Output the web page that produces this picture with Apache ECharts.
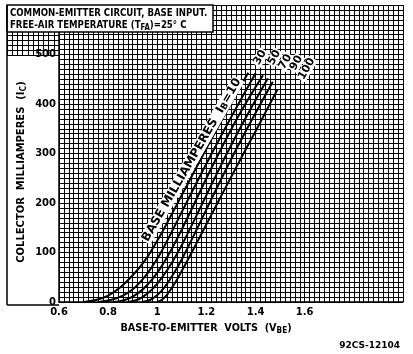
<!DOCTYPE html>
<html>
<head>
<meta charset="utf-8">
<script src="https://cdn.jsdelivr.net/npm/echarts@6/dist/echarts.min.js"></script>
<style>
html,body{margin:0;padding:0;background:#fff;}
#c{width:413px;height:354px;}
</style>
</head>
<body>
<div id="c"></div>
<script>
// ---- data ----
var xTickLabels = ['0.6', '0.8', '1', '1.2', '1.4', '1.6'];
var yTickLabels = ['0', '100', '200', '300', '400', '500'];
var curveNames = ['10', '30', '50', '70', '90', '100'];
var ib10 = [[0.70,0],[0.75,4],[0.80,13],[0.85,30],[0.90,54],[0.95,84],[1.00,124],[1.05,169],[1.10,216],[1.15,263],[1.20,310],[1.25,356],[1.30,401],[1.37,463]];
var ib30 = [[0.76,0],[0.81,4],[0.86,13],[0.91,30],[0.96,58],[1.01,96],[1.06,143],[1.11,192],[1.16,241],[1.21,289],[1.26,336],[1.31,382],[1.40,462]];
var ib50 = [[0.82,0],[0.86,3],[0.90,11],[0.94,25],[0.98,46],[1.02,74],[1.06,108],[1.10,147],[1.15,198],[1.20,250],[1.25,300],[1.30,348],[1.35,393],[1.43,458]];
var ib70 = [[0.88,0],[0.91,3],[0.94,10],[0.98,26],[1.02,50],[1.06,80],[1.10,115],[1.15,165],[1.20,216],[1.25,267],[1.30,316],[1.35,363],[1.45,452]];
var ib90 = [[0.94,0],[0.97,4],[1.00,14],[1.03,30],[1.07,60],[1.11,96],[1.15,136],[1.20,187],[1.25,238],[1.30,288],[1.35,336],[1.40,382],[1.47,445]];
var ib100 = [[1.00,0],[1.02,5],[1.04,15],[1.07,37],[1.10,63],[1.14,100],[1.18,138],[1.22,176],[1.26,214],[1.30,252],[1.35,299],[1.40,345],[1.49,430]];
var curves = [ib10, ib30, ib50, ib70, ib90, ib100];

var FONT = "'DejaVu Sans', sans-serif";
var GRIDC = '#000';

function gridAxisStyle() {
  return {
    splitLine: {show: true, lineStyle: {color: GRIDC, width: 1}},
    minorTick: {show: false, splitNumber: 10},
    minorSplitLine: {show: true, lineStyle: {color: GRIDC, width: 1}}
  };
}

// label offsets (text-local frame) for the top labels
var topLabelOffsets = [null, [16,-4], [21,1], [23,7], [28,11], [32,15]];

var series = curves.map(function (pts, i) {
  var data = pts.map(function (p, j) {
    var item = {value: p};
    if (i > 0 && j === pts.length - 1) {
      item.label = {
        show: true, formatter: curveNames[i], rotate: 60,
        position: 'inside', offset: topLabelOffsets[i],
        fontFamily: FONT, fontWeight: 'bold', fontSize: 11, color: '#000',
        backgroundColor: '#fff', padding: [0, 1]
      };
    }
    if (i === 0 && j === 9) {
      item.label = {
        show: true, formatter: 'BASE MILLIAMPERES  I{s|B}=10', rotate: 60,
        position: 'inside', offset: [9, -8],
        fontFamily: FONT, fontWeight: 'bold', fontSize: 12, color: '#000',
        backgroundColor: '#fff', padding: [0, 1],
        rich: {s: {fontFamily: FONT, fontWeight: 'bold', fontSize: 9, verticalAlign: 'bottom', padding: [4, 0, 0, 0]}}
      };
    }
    return item;
  });
  return {
    type: 'line', name: curveNames[i], data: data,
    xAxisIndex: 0, yAxisIndex: 0,
    smooth: 0.4,
    symbol: 'circle', symbolSize: 0, showSymbol: true,
    lineStyle: {color: '#000', width: 2},
    itemStyle: {color: '#000'},
    label: {show: false},
    z: 5, animation: false
  };
});

var chart = echarts.init(document.getElementById('c'), null, {renderer: 'canvas'});
chart.setOption({
  animation: false,
  backgroundColor: '#fff',
  grid: [
    {left: 59, right: 10, top: 5, bottom: 52, containLabel: false},
    {left: 7, width: 52, top: 5, height: 50, containLabel: false}
  ],
  xAxis: [
    Object.assign({
      type: 'value', gridIndex: 0, min: 0.6, max: 2.0, interval: 0.2,
      axisLine: {show: true, lineStyle: {color: '#000', width: 1.5}},
      axisTick: {show: false},
      axisLabel: {
        show: true, margin: 5, color: '#000', fontFamily: FONT, fontWeight: 'bold', fontSize: 10,
        formatter: function (v) {
          var idx = Math.round((v - 0.6) / 0.2);
          return idx < xTickLabels.length ? xTickLabels[idx] : '';
        }
      }
    }, gridAxisStyle()),
    Object.assign({
      type: 'value', gridIndex: 1, min: 0.4, max: 0.6, interval: 0.2,
      axisLine: {show: false}, axisTick: {show: false}, axisLabel: {show: false}
    }, gridAxisStyle())
  ],
  yAxis: [
    Object.assign({
      type: 'value', gridIndex: 0, min: 0, max: 600, interval: 100,
      axisLine: {show: true, lineStyle: {color: '#000', width: 1.5}},
      axisTick: {show: false},
      axisLabel: {
        show: true, margin: 3, color: '#000', fontFamily: FONT, fontWeight: 'bold', fontSize: 10,
        formatter: function (v) {
          var idx = Math.round(v / 100);
          return idx < yTickLabels.length ? yTickLabels[idx] : '';
        }
      }
    }, gridAxisStyle()),
    Object.assign({
      type: 'value', gridIndex: 1, min: 500, max: 600, interval: 100,
      axisLine: {show: false}, axisTick: {show: false}, axisLabel: {show: false}
    }, gridAxisStyle())
  ],
  series: series,
  graphic: [
    // title box
    {type: 'rect', z: 100, shape: {x: 7, y: 5, width: 206, height: 27},
     style: {fill: '#fff', stroke: '#000', lineWidth: 1.5}},
    {type: 'text', z: 101, x: 10, y: 8, scaleX: 0.86,
     style: {text: 'COMMON-EMITTER CIRCUIT, BASE INPUT.', fill: '#000',
             font: 'bold 10px ' + FONT, verticalAlign: 'top'}},
    {type: 'text', z: 101, x: 10, y: 19, scaleX: 0.86,
     style: {text: 'FREE-AIR TEMPERATURE (T{s|FA})=25\u00B0 C', fill: '#000',
             font: 'bold 10px ' + FONT, verticalAlign: 'top',
             rich: {s: {font: 'bold 8px ' + FONT, verticalAlign: 'bottom', padding: [5, 0, 0, 0]}}}},
    // y-label panel borders
    {type: 'line', z: 100, shape: {x1: 7, y1: 5, x2: 7, y2: 305}, style: {stroke: '#000', lineWidth: 1.5}},
    {type: 'line', z: 100, shape: {x1: 7, y1: 55.5, x2: 59, y2: 55.5}, style: {stroke: '#000', lineWidth: 1.2}},
    {type: 'line', z: 100, shape: {x1: 7, y1: 305, x2: 59, y2: 305}, style: {stroke: '#000', lineWidth: 1.5}},
    // y-axis title
    {type: 'text', z: 101, x: 21, y: 172, rotation: Math.PI / 2, scaleX: 0.95,
     style: {text: 'COLLECTOR  MILLIAMPERES  (I{s|C})', fill: '#000',
             font: 'bold 10.5px ' + FONT, align: 'center', verticalAlign: 'middle',
             rich: {s: {font: 'bold 8px ' + FONT, verticalAlign: 'bottom', padding: [5, 0, 0, 0]}}}},
    // x-axis title
    {type: 'text', z: 101, x: 206, y: 328, scaleX: 0.92,
     style: {text: 'BASE-TO-EMITTER  VOLTS  (V{s|BE})', fill: '#000',
             font: 'bold 10.5px ' + FONT, align: 'center', verticalAlign: 'middle',
             rich: {s: {font: 'bold 8px ' + FONT, verticalAlign: 'bottom', padding: [5, 0, 0, 0]}}}},
    // figure code
    {type: 'text', z: 101, x: 400, y: 346,
     style: {text: '92CS-12104', fill: '#000', font: 'bold 9px ' + FONT,
             align: 'right', verticalAlign: 'middle'}}
  ]
});
</script>
</body>
</html>
